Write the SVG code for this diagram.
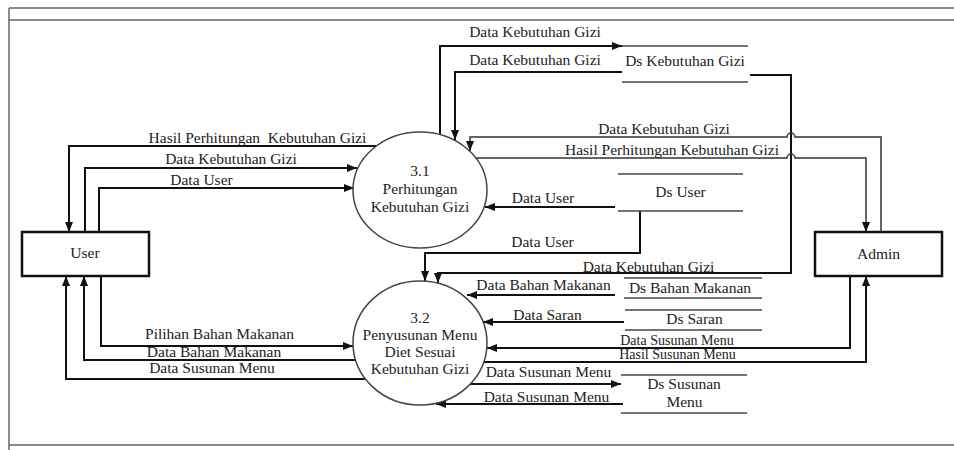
<svg xmlns="http://www.w3.org/2000/svg" width="954" height="450" viewBox="0 0 954 450">
<style>
text{font-family:"Liberation Serif","Times New Roman",serif;font-size:15.5px;fill:#222;text-anchor:middle}
.sm{font-size:14px}
.frame{stroke:#666;stroke-width:1.5;fill:none}
.c{stroke:#111;stroke-width:2;fill:none}
.t{stroke:#333;stroke-width:1.5;fill:none}
.proc{fill:#fff;stroke:#444;stroke-width:1.5}
.ent{fill:#fff;stroke:#111;stroke-width:2.5}
.ds{stroke:#444;stroke-width:1.3}
</style>
<defs>
<marker id="a" markerUnits="userSpaceOnUse" markerWidth="10" markerHeight="8" refX="10" refY="4" orient="auto">
<path d="M0,0 L10,4 L0,8 z" fill="#111"/>
</marker>
</defs>
<rect width="954" height="450" fill="#fff"/>
<g id="frame">
<line class="frame" x1="9" y1="8" x2="954" y2="8"/>
<line class="frame" x1="9" y1="20" x2="954" y2="20"/>
<line class="frame" x1="9" y1="8" x2="9" y2="450"/>
<line class="frame" x1="9" y1="445" x2="954" y2="445"/>
</g>
<g id="connectors">
<path class="c" d="M440,135 L440,46 L622,46" marker-end="url(#a)"/>
<path class="c" d="M622,72 L455,72 L455,140" marker-end="url(#a)"/>
<path class="c" d="M750,75 L791,75 L791,273 L438,273 L438,283" marker-end="url(#a)"/>
<path class="c" d="M640,211 L640,253 L425,253 L425,281" marker-end="url(#a)"/>
<path class="c" d="M615,207 L485,207" marker-end="url(#a)"/>
<path class="t" d="M881,232 L881,137 L795,137 A4,4 0 0 0 787,137 L470,137 L470,151" marker-end="url(#a)"/>
<path class="t" d="M476,158 L787,158 A4,4 0 0 1 795,158 L866,158 L866,232" marker-end="url(#a)"/>
<path class="c" d="M376,146 L69,146 L69,232" marker-end="url(#a)"/>
<path class="c" d="M85,232 L85,168 L357,168" marker-end="url(#a)"/>
<path class="c" d="M99,232 L99,188 L354,188" marker-end="url(#a)"/>
<path class="c" d="M101,276 L101,346 L353,346" marker-end="url(#a)"/>
<path class="c" d="M356,360 L84,360 L84,276" marker-end="url(#a)"/>
<path class="c" d="M365,379 L66,379 L66,276" marker-end="url(#a)"/>
<path class="c" d="M615,295 L467,295" marker-end="url(#a)"/>
<path class="c" d="M624,322 L483,322" marker-end="url(#a)"/>
<path class="c" d="M850,276 L850,348 L487,348" marker-end="url(#a)"/>
<path class="c" d="M484,362 L866,362 L866,276" marker-end="url(#a)"/>
<path class="c" d="M470,384 L621,384" marker-end="url(#a)"/>
<path class="c" d="M623,404 L436,404" marker-end="url(#a)"/>
<text x="535" y="37">Data Kebutuhan Gizi</text>
<text x="535" y="65">Data Kebutuhan Gizi</text>
<text x="257.5" y="143" xml:space="preserve">Hasil Perhitungan  Kebutuhan Gizi</text>
<text x="231" y="164">Data Kebutuhan Gizi</text>
<text x="201.5" y="185">Data User</text>
<text x="664" y="134">Data Kebutuhan Gizi</text>
<text x="672" y="155">Hasil Perhitungan Kebutuhan Gizi</text>
<text x="543" y="203">Data User</text>
<text x="542.5" y="247">Data User</text>
<text x="648.5" y="272">Data Kebutuhan Gizi</text>
<text x="543.5" y="290">Data Bahan Makanan</text>
<text x="547.5" y="320">Data Saran</text>
<text class="sm" x="677" y="345">Data Susunan Menu</text>
<text class="sm" x="677.5" y="359">Hasil Susunan Menu</text>
<text x="548.5" y="377">Data Susunan Menu</text>
<text x="546.5" y="402">Data Susunan Menu</text>
<text x="219.5" y="339">Pilihan Bahan Makanan</text>
<text x="214" y="357">Data Bahan Makanan</text>
<text x="212" y="373">Data Susunan Menu</text>
</g>
<g id="p31">
<ellipse class="proc" cx="420" cy="190" rx="67" ry="58"/>
<text x="420" y="176">3.1</text>
<text x="420" y="194">Perhitungan</text>
<text x="420" y="212">Kebutuhan Gizi</text>
</g>
<g id="p32">
<ellipse class="proc" cx="420" cy="343" rx="67" ry="62"/>
<text x="420" y="323">3.2</text>
<text x="420" y="340">Penyusunan Menu</text>
<text x="420" y="357">Diet Sesuai</text>
<text x="420" y="374">Kebutuhan Gizi</text>
</g>
<g id="user">
<rect class="ent" x="22" y="232" width="127" height="44"/>
<text x="85" y="258">User</text>
</g>
<g id="admin">
<rect class="ent" x="815" y="232" width="127" height="44"/>
<text x="878.5" y="259">Admin</text>
</g>
<g id="ds-kebutuhan">
<line class="ds" x1="622" y1="46" x2="748" y2="46"/>
<line class="ds" x1="622" y1="82" x2="748" y2="82"/>
<text x="685" y="66">Ds Kebutuhan Gizi</text>
</g>
<g id="ds-user">
<line class="ds" x1="618" y1="174" x2="743" y2="174"/>
<line class="ds" x1="618" y1="211" x2="743" y2="211"/>
<text x="680.5" y="197">Ds User</text>
</g>
<g id="ds-bahan">
<line class="ds" x1="624" y1="278" x2="762" y2="278"/>
<line class="ds" x1="624" y1="298" x2="762" y2="298"/>
<text x="690" y="293">Ds Bahan Makanan</text>
</g>
<g id="ds-saran">
<line class="ds" x1="625" y1="310" x2="762" y2="310"/>
<line class="ds" x1="625" y1="330" x2="762" y2="330"/>
<text x="694.5" y="324">Ds Saran</text>
</g>
<g id="ds-susunan">
<line class="ds" x1="621" y1="375" x2="747" y2="375"/>
<line class="ds" x1="621" y1="413" x2="747" y2="413"/>
<text x="684" y="389">Ds Susunan</text>
<text x="684.5" y="407">Menu</text>
</g>
</svg>
